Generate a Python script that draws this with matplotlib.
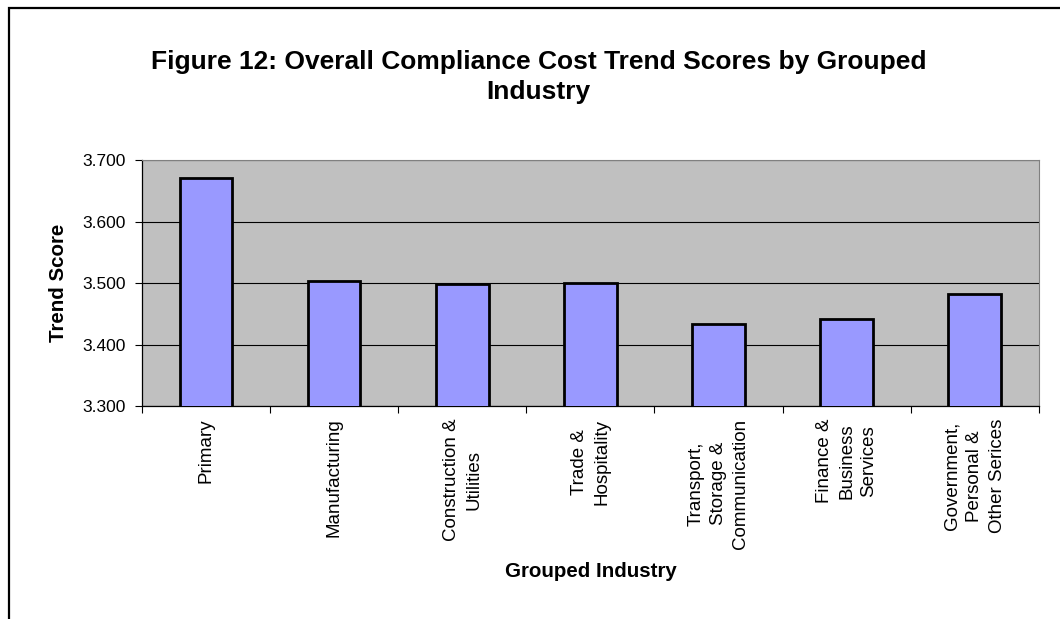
import matplotlib.pyplot as plt
from matplotlib.patches import Rectangle
from matplotlib.ticker import FormatStrFormatter

plt.rcParams["font.family"] = ["Liberation Sans", "DejaVu Sans"]

industries = [
    "Primary",
    "Manufacturing",
    "Construction &\nUtilities",
    "Trade &\nHospitality",
    "Transport,\nStorage &\nCommunication",
    "Finance &\nBusiness\nServices",
    "Government,\nPersonal &\nOther Serices",
]
trend_scores = [3.672, 3.504, 3.499, 3.501, 3.433, 3.442, 3.482]
y_ticks = [3.3, 3.4, 3.5, 3.6, 3.7]

fig = plt.figure(figsize=(10.6, 6.19), dpi=100)
ax = fig.add_axes([0.134, 0.344, 0.846, 0.397])

# chart border, running off the right and bottom edges
fig.patches.append(Rectangle((8.5 / 1060, -0.1), 1.2, 0.1 + 1 - 7.5 / 619,
                             transform=fig.transFigure, fill=False,
                             edgecolor="black", linewidth=1.6))

x = range(len(industries))
ax.set_facecolor("#C0C0C0")
ax.yaxis.grid(True, color="black", linewidth=0.8)
ax.set_axisbelow(True)
ax.bar(x, trend_scores, width=0.41, color="#9999FF", edgecolor="black",
       linewidth=2.0, zorder=3)

ax.set_xlim(-0.5, len(industries) - 0.5)
ax.set_ylim(y_ticks[0], y_ticks[-1])
ax.set_yticks(y_ticks)
ax.yaxis.set_major_formatter(FormatStrFormatter("%.3f"))
ax.set_xticks(list(x))
ax.set_xticklabels(industries, rotation=90, va="top", ha="center",
                   multialignment="center", fontsize=13.5, linespacing=1.42)
ax.set_xticks([i - 0.5 for i in range(len(industries) + 1)], minor=True)
ax.tick_params(axis="x", which="major", length=0, pad=9)
ax.tick_params(axis="x", which="minor", length=5, width=0.8, direction="out")
ax.tick_params(axis="y", length=5, width=0.8, direction="out", labelsize=12.5,
               pad=7)

for side in ("top", "right"):
    ax.spines[side].set_color("#808080")
for side in ("left", "bottom"):
    ax.spines[side].set_color("black")
    ax.spines[side].set_linewidth(0.9)

ax.set_ylabel("Trend Score", fontsize=14.8, fontweight="bold", va="center")
ax.yaxis.set_label_coords(-0.0936, 0.5)
ax.set_xlabel("Grouped Industry", fontsize=14.8, fontweight="bold", va="center")
ax.xaxis.set_label_coords(0.5, -0.675)
fig.text(0.508, 0.876,
         "Figure 12: Overall Compliance Cost Trend Scores by Grouped\nIndustry",
         ha="center", va="center", fontsize=19, fontweight="bold",
         linespacing=1.3)

fig.savefig("out.png", dpi=100)
